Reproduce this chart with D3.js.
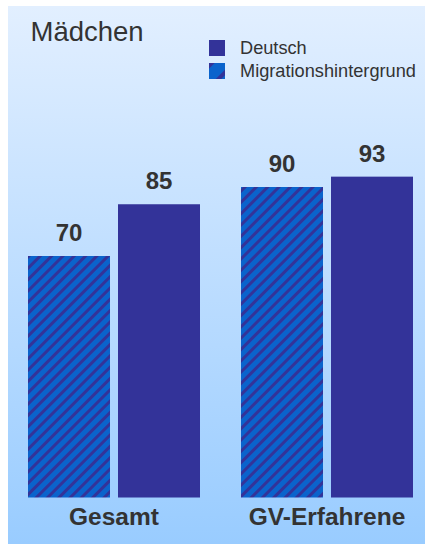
<!DOCTYPE html>
<html>
<head>
<meta charset="utf-8">
<script src="https://cdn.jsdelivr.net/npm/d3@7"></script>
<style>
  html, body { margin: 0; padding: 0; background: #ffffff; }
  svg { display: block; font-family: "Liberation Sans", Arial, sans-serif; }
</style>
</head>
<body>
<svg id="chart" width="425" height="544"></svg>
<script>
const title = "Mädchen";
const categories = ["Gesamt", "GV-Erfahrene"];
const seriesNames = ["Migrationshintergrund", "Deutsch"];
const migrationValues = [70, 90];
const deutschValues = [85, 93];
const legendOrder = ["Deutsch", "Migrationshintergrund"];

const valuesBySeries = {
  "Migrationshintergrund": migrationValues,
  "Deutsch": deutschValues
};

const svg = d3.select("#chart");
const defs = svg.append("defs");

// background gradient
const grad = defs.append("linearGradient").attr("id", "bg")
  .attr("x1", 0).attr("y1", 0).attr("x2", 0).attr("y2", 1);
grad.append("stop").attr("offset", "0%").attr("stop-color", "#e2efff");
grad.append("stop").attr("offset", "100%").attr("stop-color", "#99ccff");

// stripe pattern
const pat = defs.append("pattern").attr("id", "stripes")
  .attr("patternUnits", "userSpaceOnUse")
  .attr("width", 8).attr("height", 8)
  .attr("patternTransform", "rotate(45)");
pat.append("rect").attr("width", 8).attr("height", 8).attr("fill", "#0a63cc");
pat.append("rect").attr("x", 0).attr("width", 3).attr("height", 8).attr("fill", "#333399");

const legPat = defs.append("pattern").attr("id", "legstripes")
  .attr("patternUnits", "userSpaceOnUse")
  .attr("width", 16).attr("height", 16)
  .attr("patternTransform", "translate(209,63) rotate(45)");
legPat.append("rect").attr("width", 16).attr("height", 16).attr("fill", "#0a63cc");
legPat.append("rect").attr("x", 0).attr("width", 4).attr("height", 16).attr("fill", "#333399");

const fills = {
  "Migrationshintergrund": "url(#stripes)",
  "Deutsch": "#333399"
};
const legendFills = {
  "Migrationshintergrund": "url(#legstripes)",
  "Deutsch": "#333399"
};

// panel
svg.append("rect").attr("x", 8).attr("y", 6).attr("width", 417).attr("height", 538)
  .attr("fill", "url(#bg)");

const x0 = d3.scaleBand().domain(categories).range([28, 413]).paddingInner(41 / 213).paddingOuter(0);
const x1 = d3.scaleBand().domain(seriesNames).range([0, x0.bandwidth()]).paddingInner(8 / 90).paddingOuter(0);
const y = d3.scaleLinear().domain([0, 100]).range([497.5, 152.5]);

const rows = [];
categories.forEach((c, i) => {
  seriesNames.forEach(s => rows.push({ cat: c, series: s, value: valuesBySeries[s][i] }));
});

const g = svg.append("g");
g.selectAll("rect.bar").data(rows).enter().append("rect")
  .attr("class", "bar")
  .attr("x", d => x0(d.cat) + x1(d.series))
  .attr("y", d => y(d.value))
  .attr("width", x1.bandwidth())
  .attr("height", d => y(0) - y(d.value))
  .attr("fill", d => fills[d.series]);

g.selectAll("text.val").data(rows).enter().append("text")
  .attr("class", "val")
  .attr("x", d => x0(d.cat) + x1(d.series) + x1.bandwidth() / 2)
  .attr("y", d => y(d.value) - 15)
  .attr("text-anchor", "middle")
  .attr("font-size", "24px")
  .attr("font-weight", "bold")
  .attr("fill", "#333333")
  .text(d => d.value);

// category axis labels
const xAxis = d3.axisBottom(x0).tickSize(0).tickPadding(0);
const axG = svg.append("g").attr("transform", "translate(0,525)").call(xAxis);
axG.select(".domain").remove();
axG.selectAll("text")
  .attr("dy", 0)
  .attr("y", 0)
  .attr("font-size", "24.5px")
  .attr("font-weight", "bold")
  .attr("font-family", "\"Liberation Sans\", Arial, sans-serif")
  .attr("fill", "#333333");

// title
svg.append("text").attr("x", 30.5).attr("y", 40.5)
  .attr("font-size", "27.5px").attr("fill", "#333333").text(title);

// legend
const leg = svg.append("g");
legendOrder.forEach((s, i) => {
  const ly = 40 + i * 23;
  leg.append("rect").attr("x", 209).attr("y", ly).attr("width", 16).attr("height", 16)
    .attr("fill", legendFills[s]);
  leg.append("text").attr("x", 240).attr("y", ly + 14)
    .attr("font-size", "18.2px").attr("fill", "#333333").text(s);
});
</script>
</body>
</html>
